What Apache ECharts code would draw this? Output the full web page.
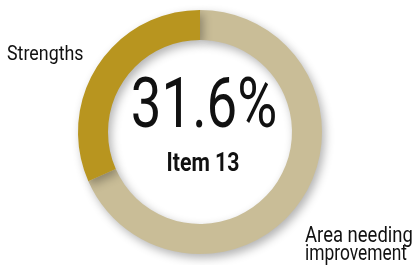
<!DOCTYPE html>
<html>
<head>
<meta charset="utf-8">
<script src="https://cdn.jsdelivr.net/npm/echarts@6/dist/echarts.min.js"></script>
<style>
  html, body { margin: 0; padding: 0; background: #fff; }
  #chart { width: 412px; height: 265px; }
</style>
</head>
<body>
<div id="chart"></div>
<script>
// share of answers for item 13
var categories = ['Area needing improvement', 'Strengths'];
var values = [68.4, 31.6];
var colors = ['#c9bd97', '#b8951f'];
var itemName = 'Item 13';
var centerValue = '31.6%';

var font = 'Roboto, "DejaVu Sans Condensed", sans-serif';

var chart = echarts.init(document.getElementById('chart'));

// narrow text: draw normal font and squeeze it horizontally
function label(text, x, y, size, weight, align, sx) {
  return {
    type: 'text', x: x, y: y, scaleX: sx,
    style: {
      text: text, font: weight + ' ' + size + 'px ' + font, fill: '#111',
      align: align, verticalAlign: 'middle'
    }
  };
}

var option = {
  backgroundColor: '#fff',
  animation: false,
  graphic: [
    label(categories[1], 7, 55, 21, 'normal', 'left', 0.85),
    label('Area needing', 305, 236, 22, 'normal', 'left', 0.84),
    label('improvement', 305, 254, 22, 'normal', 'left', 0.79),
    label(centerValue, 204, 109, 71, 'normal', 'center', 0.77),
    label(itemName, 203, 165, 25, 'bold', 'center', 0.85)
  ],
  series: [{
    type: 'pie',
    center: [200, 132],
    radius: [92, 122],
    startAngle: 90,
    clockwise: true,
    silent: true,
    label: { show: false },
    labelLine: { show: false },
    itemStyle: {
      shadowBlur: 10,
      shadowColor: 'rgba(0,0,0,0.3)',
      shadowOffsetX: 3,
      shadowOffsetY: 4
    },
    data: categories.map(function (c, i) {
      return { name: c, value: values[i], itemStyle: { color: colors[i] } };
    })
  }]
};

chart.setOption(option);
</script>
</body>
</html>
